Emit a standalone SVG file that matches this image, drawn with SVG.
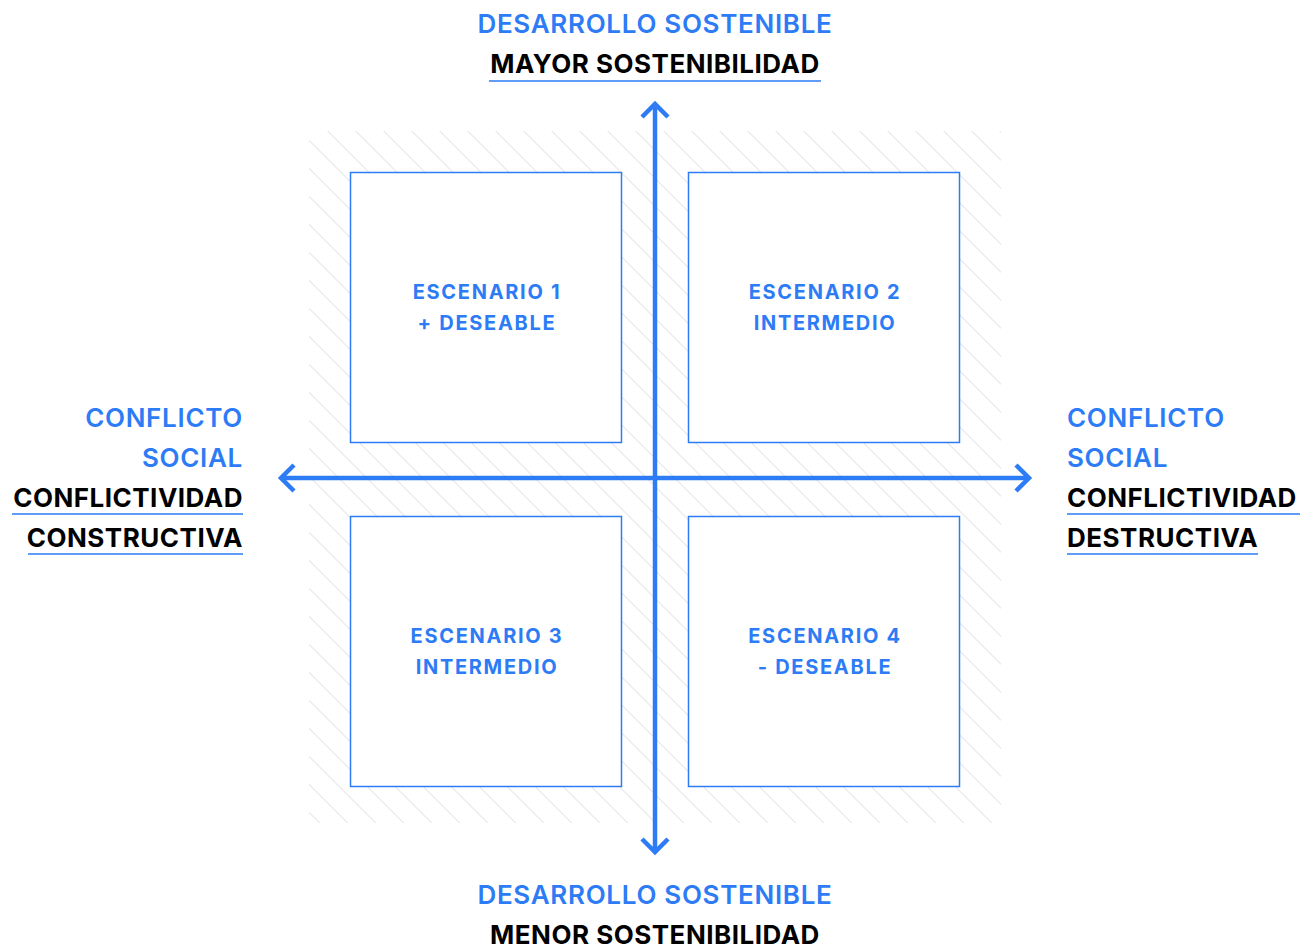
<svg xmlns="http://www.w3.org/2000/svg" width="1311" height="951" viewBox="0 0 1311 951">
<style>
.lbl{font-family:Inter,"Noto Sans","Liberation Sans",sans-serif;font-weight:600;font-size:26px;letter-spacing:0.7px}
.blue{fill:#2D7CF6}
.blk{fill:#000;font-weight:700;letter-spacing:0.5px}
.box{fill:#fff;stroke:#2D7CF6;stroke-width:1.5}
.bt{font-family:Inter,"Noto Sans","Liberation Sans",sans-serif;font-weight:700;font-size:20px;letter-spacing:1.7px;fill:#2D7CF6;text-anchor:middle}
.ul{stroke:#2D7CF6;stroke-width:1.5}
.axis{stroke:#2D7CF6;stroke-width:4.5;fill:none;stroke-linecap:butt}
.head{stroke:#2D7CF6;stroke-width:4.5;fill:none;stroke-linecap:butt;stroke-linejoin:miter}
</style>
<defs>
<pattern id="hatch" patternUnits="userSpaceOnUse" width="19.8" height="19.8" patternTransform="rotate(-45)">
<line x1="0" y1="-5" x2="0" y2="25" stroke="#dedede" stroke-width="1.6"/>
</pattern>
</defs>
<rect width="1311" height="951" fill="#fff"/>
<rect id="hatch-area" x="309" y="131" width="692" height="692" fill="url(#hatch)"/>
<g id="scenario1"><rect class="box" x="350.5" y="172.5" width="271" height="270"/><text class="bt" x="487" y="299">ESCENARIO 1</text><text class="bt" x="487" y="330">+ DESEABLE</text></g>
<g id="scenario2"><rect class="box" x="688.5" y="172.5" width="271" height="270"/><text class="bt" x="825" y="299">ESCENARIO 2</text><text class="bt" x="825" y="330">INTERMEDIO</text></g>
<g id="scenario3"><rect class="box" x="350.5" y="516.5" width="271" height="270"/><text class="bt" x="487" y="643">ESCENARIO 3</text><text class="bt" x="487" y="674">INTERMEDIO</text></g>
<g id="scenario4"><rect class="box" x="688.5" y="516.5" width="271" height="270"/><text class="bt" x="825" y="643">ESCENARIO 4</text><text class="bt" x="825" y="674">- DESEABLE</text></g>
<g id="connectors">
<line class="axis" x1="655" y1="105" x2="655" y2="851"/>
<line class="axis" x1="282" y1="478" x2="1028" y2="478"/>
<polyline class="head" points="642,117 655,104 668,117"/>
<polyline class="head" points="642,839 655,852 668,839"/>
<polyline class="head" points="294,465 281,478 294,491"/>
<polyline class="head" points="1016,465 1029,478 1016,491"/>
</g>
<g id="label-top">
<text class="lbl blue" x="655" y="33" text-anchor="middle">DESARROLLO SOSTENIBLE</text>
<text class="lbl blk" x="655" y="73" text-anchor="middle">MAYOR SOSTENIBILIDAD</text>
<line class="ul" x1="489" y1="81" x2="821" y2="81"/>
</g>
<g id="label-bottom">
<text class="lbl blue" x="655" y="904" text-anchor="middle">DESARROLLO SOSTENIBLE</text>
<text class="lbl blk" x="655" y="944" text-anchor="middle">MENOR SOSTENIBILIDAD</text>
</g>
<g id="label-left" text-anchor="end">
<text class="lbl blue" x="243" y="427">CONFLICTO</text>
<text class="lbl blue" x="243" y="467">SOCIAL</text>
<text class="lbl blk" x="243" y="507">CONFLICTIVIDAD</text>
<line class="ul" x1="12" y1="514" x2="243" y2="514"/>
<text class="lbl blk" x="243" y="547">CONSTRUCTIVA</text>
<line class="ul" x1="28" y1="554" x2="243" y2="554"/>
</g>
<g id="label-right">
<text class="lbl blue" x="1067" y="427">CONFLICTO</text>
<text class="lbl blue" x="1067" y="467">SOCIAL</text>
<text class="lbl blk" x="1067" y="507">CONFLICTIVIDAD</text>
<line class="ul" x1="1067" y1="514" x2="1300" y2="514"/>
<text class="lbl blk" x="1067" y="547">DESTRUCTIVA</text>
<line class="ul" x1="1067" y1="554" x2="1258" y2="554"/>
</g>
</svg>
